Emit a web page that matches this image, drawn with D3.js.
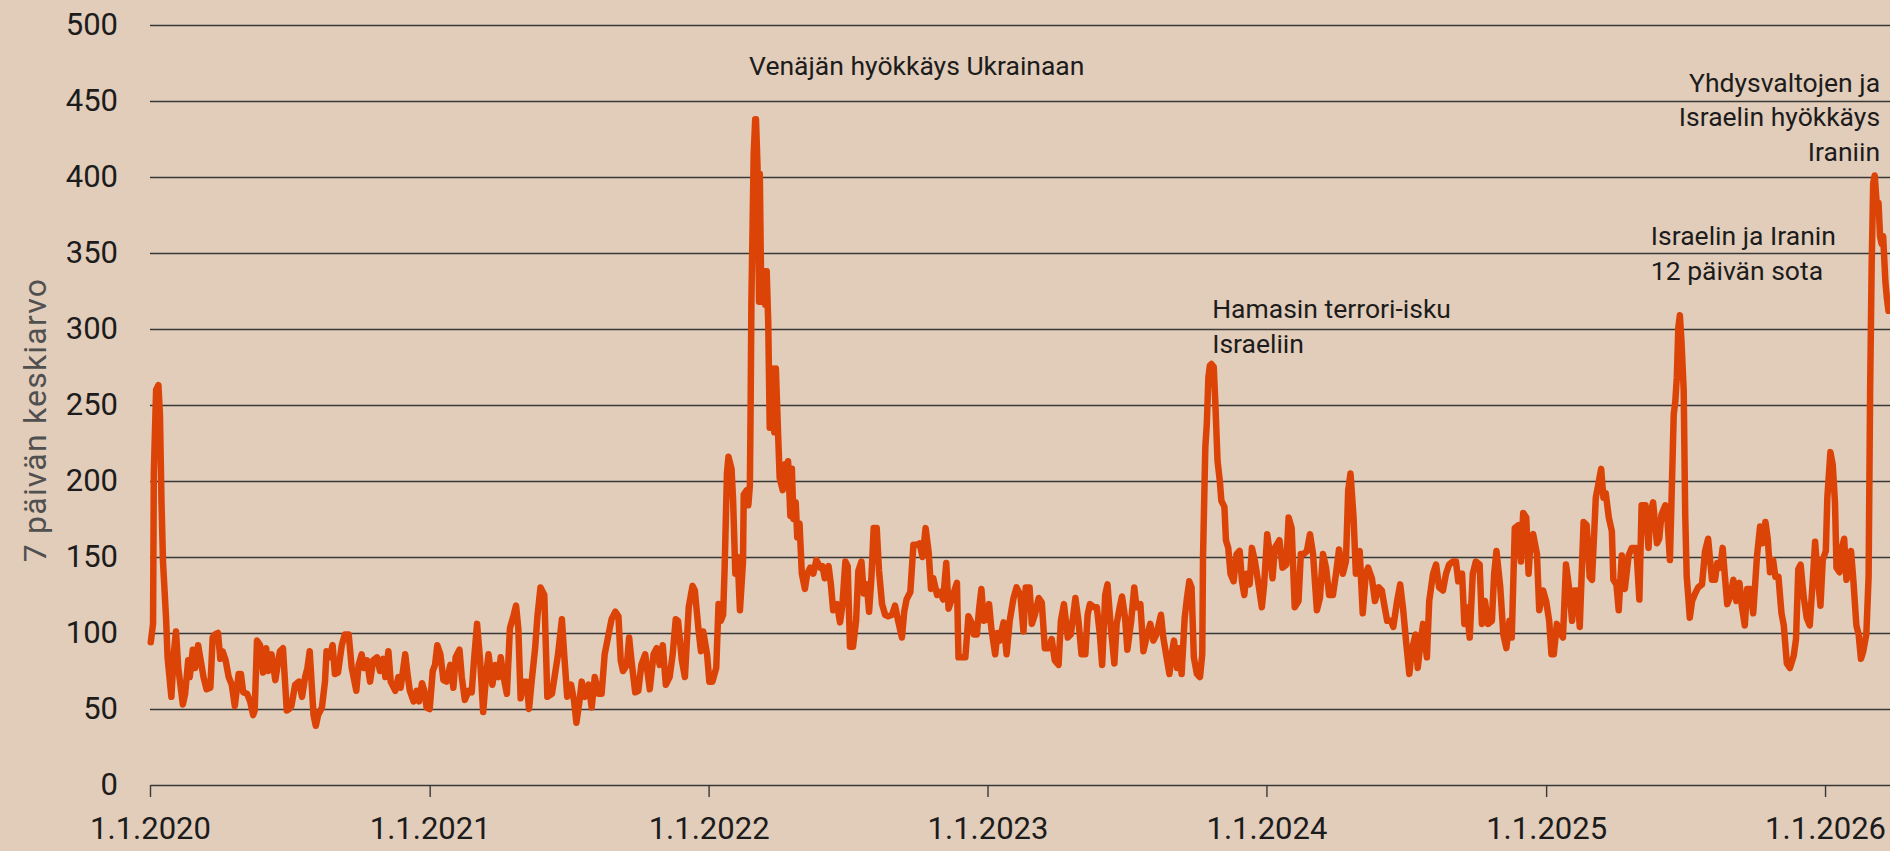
<!DOCTYPE html>
<html>
<head>
<meta charset="utf-8">
<script src="https://cdn.jsdelivr.net/npm/d3@7"></script>
<style>
  html, body { margin: 0; padding: 0; background: #e2ccba; }
  svg { display: block; }
  text { font-family: Roboto, "Noto Sans", sans-serif; }
</style>
</head>
<body>
<svg id="chart" width="1890" height="851"></svg>
<script>
// ---- DATA ----
// Days since 1.1.2020 for each sampled point of the 7-day average
const dayOffsets = [
1,4,5,8,11,13,15,17,21,23,28,31,34,37,43,46,50,52,56,59,63,65,70,74,79,82,85,89,92,95,99,103,107,111,116,119,122,127,131,135,137,140,144,148,152,155,159,164,167,170,174,179,182,185,190,195,199,203,206,209,214,217,220,225,229,231,235,239,242,246,251,255,260,264,270,273,277,280,284,288,292,297,301,305,308,312,315,321,325,328,334,337,340,345,349,352,356,359,362,366,370,373,376,
380,384,388,393,397,400,405,408,412,417,421,424,428,432,436,440,443,448,452,456,459,462,467,471,476,479,482,485,489,493,496,499,504,507,511,516,520,526,530,534,539,542,546,551,555,558,562,565,569,574,578,582,587,591,595,600,604,609,613,616,619,624,627,630,635,639,643,648,654,659,663,667,671,675,680,684,688,691,696,700,705,710,713,718,721,724,729,732,736,741,744,747,750,752,755,757,
761,763,766,769,772,776,777,781,783,785,786,787,790,792,793,795,797,798,800,803,805,807,809,811,814,817,819,822,824,828,831,833,835,838,840,842,845,847,850,853,857,860,864,868,872,877,880,883,888,891,894,899,903,906,910,913,916,920,924,927,931,934,938,941,944,947,951,954,958,962,966,971,975,979,984,987,990,995,999,1003,1007,1011,1015,1019,1022,1025,1030,1034,1038,1042,1045,1049,1054,1056,1058,1062,1067,1071,1075,1078,1082,1085,1088,1091,1096,1098,1101,1106,1109,
1112,1117,1121,1125,1130,1134,1139,1143,1146,1151,1154,1158,1163,1167,1171,1176,1180,1184,1189,1192,1196,1201,1205,1211,1215,1219,1224,1227,1230,1235,1239,1243,1246,1250,1253,1257,1262,1265,1269,1272,1276,1279,1284,1288,1291,1296,1300,1304,1309,1313,1317,1323,1326,1331,1334,1337,1340,1344,1347,1350,1354,1357,1360,1363,1366,1370,1374,1377,1378,1381,1383,1385,1387,1389,1392,1394,1397,1400,1402,1406,1408,1411,1414,1418,1422,1426,1429,1432,1435,1439,1442,1446,1450,1455,1458,1462,1466,1469,1472,1478,1482,1487,1490,
1494,1498,1503,1506,1510,1514,1518,1522,1527,1531,1535,1539,1543,1548,1552,1556,1561,1565,1568,1571,1575,1578,1583,1587,1591,1594,1599,1603,1608,1612,1615,1619,1624,1627,1632,1636,1640,1644,1648,1651,1656,1659,1663,1666,1671,1674,1679,1683,1687,1692,1696,1700,1705,1709,1712,1717,1720,1723,1727,1731,1735,1740,1743,1747,1751,1756,1759,1762,1767,1771,1775,1779,1782,1786,1791,1794,1797,1801,1804,1807,1810,1815,1818,1823,1827,1831,1834,1837,1841,1844,1849,1853,1857,1861,1864,1868,1871,
1876,1880,1884,1887,1890,1892,1895,1899,1902,1905,1909,1913,1915,1919,1922,1926,1930,1935,1939,1945,1949,1952,1957,1961,1963,1967,1972,1975,1978,1983,1986,1989,1991,1994,1996,1998,2000,2002,2004,2007,2009,2011,2013,2015,2018,2022,2026,2031,2035,2039,2044,2048,2051,2055,2058,2061,2064,2068,2072,2076,2080,2083,2087,2090,2094,2098,2103,2107,2110,2114,2117,2120,2124,2127,2131,2135,2138,2142,2146,2151,2154,2157,2160,2164,2168,2172,2176,2179,2182,2186,2189,2193,2195,2199,2202,2205,2207,2211,2214,2217,2220,2223,2226,2229,2233,2236,2239,2242,2246,2249,2251,2253,2255,2257,2260,2262,2264,2266,2268,2271,2273,2275
];
// 7 päivän keskiarvo at each of those days
const values = [
94,106,205,260,263,244,187,147,110,84,58,86,101,77,53,60,82,71,89,77,92,86,71,63,64,97,99,100,83,88,82,71,66,52,73,73,61,60,55,46,49,95,92,74,90,75,86,69,79,88,90,49,50,52,66,68,58,71,77,88,46,39,46,51,68,88,84,92,73,74,92,99,99,77,62,79,86,77,82,68,82,84,75,83,71,88,68,62,71,64,86,73,62,55,62,55,67,62,51,50,75,79,92,
86,69,68,79,64,84,89,71,56,62,61,82,106,82,48,73,86,66,79,71,84,73,60,103,112,118,103,57,68,68,50,66,90,111,130,125,58,60,73,86,109,86,58,66,55,41,55,68,58,66,51,71,60,60,86,99,109,114,111,82,75,79,97,82,61,62,79,86,63,86,90,79,92,66,71,86,109,108,82,71,117,131,128,101,88,101,86,68,68,77,119,108,112,143,205,216,
208,188,139,150,115,147,191,194,184,197,249,318,415,438,438,407,318,402,318,338,316,338,305,235,274,232,274,230,202,194,211,199,213,177,208,175,186,163,172,139,129,139,143,139,148,143,144,136,144,132,115,119,107,118,147,144,91,91,108,141,147,126,132,114,136,169,169,141,119,112,111,112,118,108,97,114,122,127,158,158,159,150,169,153,129,136,125,127,122,146,116,122,130,133,84,84,84,111,107,99,99,116,129,108,109,119,103,86,100,
95,107,86,108,123,130,125,101,130,130,106,112,123,120,90,90,96,82,79,108,119,97,99,123,108,86,86,112,119,117,117,99,79,125,132,106,80,106,117,124,110,89,108,130,117,119,88,97,106,95,99,112,97,82,73,86,95,77,90,73,110,123,134,130,84,73,71,86,150,222,238,268,276,277,275,253,213,200,187,183,161,156,139,134,152,154,134,125,139,132,156,147,134,117,132,165,150,136,156,161,143,145,176,
169,117,121,152,152,154,165,152,115,123,152,143,125,125,139,155,139,147,194,205,176,139,154,113,139,143,136,121,130,128,119,108,108,104,121,132,115,93,73,88,99,77,95,106,84,121,139,145,130,128,139,145,147,147,134,139,106,117,97,139,147,145,106,121,106,108,139,154,130,99,90,108,97,169,171,147,179,176,139,163,165,152,115,128,121,108,86,86,106,101,97,145,130,108,128,128,104,
173,171,137,135,167,189,197,208,189,192,176,167,135,132,115,151,129,151,156,156,122,184,184,156,178,186,159,162,178,184,173,148,186,244,252,268,301,309,293,260,178,137,124,110,121,126,130,132,154,162,135,135,146,143,156,137,119,124,135,121,133,118,105,129,129,113,151,170,159,173,162,140,148,137,137,113,105,80,77,85,96,142,145,124,110,105,135,160,140,118,148,154,189,219,211,186,143,140,156,162,135,140,154,135,105,99,83,88,99,137,260,342,396,401,380,383,361,356,361,331,320,312
];
const yTicks = [0, 50, 100, 150, 200, 250, 300, 350, 400, 450, 500];
const xTickYears = [2020, 2021, 2022, 2023, 2024, 2025, 2026];
const xTickLabels = ["1.1.2020", "1.1.2021", "1.1.2022", "1.1.2023", "1.1.2024", "1.1.2025", "1.1.2026"];
const yTitle = "7 päivän keskiarvo";
const annotationLines = [
  ["Venäjän hyökkäys Ukrainaan"],
  ["Hamasin terrori-isku", "Israeliin"],
  ["Israelin ja Iranin", "12 päivän sota"],
  ["Yhdysvaltojen ja", "Israelin hyökkäys", "Iraniin"]
];
// anchor of each annotation in data terms (day offset, value)
const annotationDay = [784, 1390, 1964, 2264];
const annotationValue = [467, 307, 355, 456];
const annotationAlign = ["start", "start", "start", "end"];

// ---- DRAWING ----
(function draw() {
  const DAY = 86400000;
  const t0 = Date.UTC(2020, 0, 1);
  const dateOf = d => new Date(t0 + d * DAY);

  const svg = d3.select("#chart");
  const mLeft = 150, mRight = 1890, mTop = 25, mBottom = 785;

  const x = d3.scaleUtc().domain([dateOf(0), dateOf(2277)]).range([mLeft, mRight]);
  const y = d3.scaleLinear().domain([0, 500]).range([mBottom, mTop]);

  const ink = "#1c1c1c";
  const gridColor = "#383838";

  // Y axis with gridlines
  const yAxis = svg.append("g")
    .attr("transform", `translate(${mLeft},0)`)
    .call(d3.axisLeft(y).tickValues(yTicks.filter(v => v > 0)).tickSize(-(mRight - mLeft)).tickPadding(32).tickFormat(d3.format("d")));
  yAxis.select(".domain").remove();
  yAxis.selectAll(".tick line").attr("stroke", gridColor).attr("stroke-width", 1.4);
  yAxis.selectAll(".tick text").attr("fill", ink).style("font-size", "31px").attr("font-family", "Roboto");

  svg.append("text")
    .attr("x", mLeft - 32).attr("y", y(0)).attr("dy", "0.32em")
    .attr("text-anchor", "end").attr("fill", ink).style("font-size", "31px")
    .text(d3.format("d")(yTicks[0]));

  // X axis
  const xAxis = svg.append("g")
    .attr("transform", `translate(0,${mBottom})`)
    .call(d3.axisBottom(x)
      .tickValues(xTickYears.map(yr => new Date(Date.UTC(yr, 0, 1))))
      .tickSize(12).tickSizeOuter(0).tickPadding(20)
      .tickFormat((d, i) => xTickLabels[i]));
  xAxis.select(".domain").attr("stroke", gridColor).attr("stroke-width", 1.4);
  xAxis.selectAll(".tick line").attr("stroke", gridColor).attr("stroke-width", 1.4);
  xAxis.selectAll(".tick text").attr("fill", ink).style("font-size", "31px").attr("font-family", "Roboto");

  // Y title
  svg.append("text")
    .attr("transform", `translate(35,420) rotate(-90)`)
    .attr("text-anchor", "middle").attr("dy", "0.35em")
    .attr("fill", "#505050").style("font-size", "32px")
    .style("letter-spacing", "1.2px")
    .text(yTitle);

  // Line
  const pts = dayOffsets.map((d, i) => ({ date: dateOf(d), v: values[i] }));
  svg.append("path")
    .datum(pts)
    .attr("fill", "none")
    .attr("stroke", "#dc4407")
    .attr("stroke-width", 6.5)
    .attr("stroke-linejoin", "round")
    .attr("stroke-linecap", "round")
    .attr("d", d3.line().x(p => x(p.date)).y(p => y(p.v)));

  // Annotations
  const lineH = 34.5;
  annotationLines.forEach((lines, i) => {
    const ax = x(dateOf(annotationDay[i]));
    const t = svg.append("text")
      .attr("x", ax)
      .attr("y", y(annotationValue[i]))
      .attr("text-anchor", annotationAlign[i])
      .attr("fill", ink).style("font-size", "26.5px");
    lines.forEach((ln, j) => {
      t.append("tspan")
        .attr("x", ax)
        .attr("dy", j === 0 ? 0 : lineH)
        .text(ln);
    });
  });
})();
</script>
</body>
</html>
